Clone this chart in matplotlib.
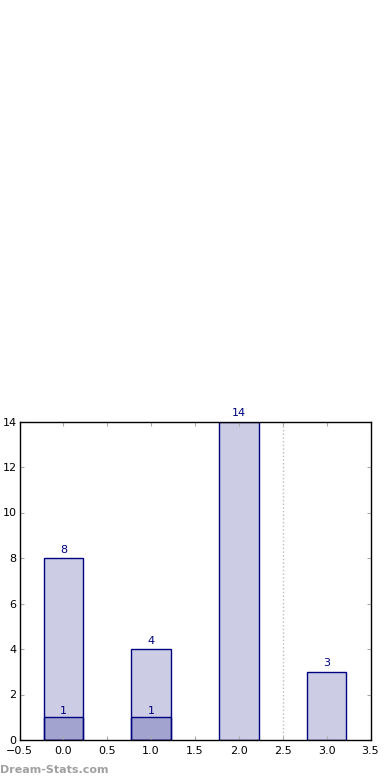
import matplotlib
matplotlib.use('Agg')
import matplotlib.pyplot as plt

# ---------------------------------------------------------------- DATA
positions = [0, 1, 2, 3]
totals = [8, 4, 14, 3]
sub_positions = [0, 1]
sub_values = [1, 1]
divider_x = 2.5
watermark = 'Dream-Stats.com'

# ---------------------------------------------------------------- PLOT
fig = plt.figure(figsize=(3.9, 7.8), dpi=100)
ax = fig.add_axes([19.5 / 390, 1 - 740 / 780, (370.5 - 19.5) / 390, (740 - 421.5) / 780])

bar_w = 0.45
ax.bar(positions, totals, width=bar_w, color='navy', alpha=0.2, edgecolor='none')
ax.bar(positions, totals, width=bar_w, fill=False, edgecolor='navy', linewidth=1)
ax.bar(sub_positions, sub_values, width=bar_w, color='navy', alpha=0.2, edgecolor='none')
ax.bar(sub_positions, sub_values, width=bar_w, fill=False, edgecolor='navy', linewidth=1)

for x, v in zip(positions, totals):
    ax.text(x, v + 0.15, str(v), ha='center', va='bottom', color='navy', fontsize=8)
for x, v in zip(sub_positions, sub_values):
    ax.text(x, v + 0.05, str(v), ha='center', va='bottom', color='navy', fontsize=8)

ax.axvline(divider_x, color='#bbbbbb', linestyle=':', linewidth=1)

ax.set_xlim(-0.5, 3.5)
ax.set_ylim(0, 14)
ax.set_xticks([-0.5, 0, 0.5, 1, 1.5, 2, 2.5, 3, 3.5])
ax.set_yticks(range(0, 15, 2))
ax.tick_params(direction='in', length=3, color='#aaaaaa', labelsize=8,
               top=True, right=True, pad=2)
ax.tick_params(axis='x', pad=4)
for s in ax.spines.values():
    s.set_linewidth(1)

fig.text(0.0, 1 - 770 / 780, watermark, color='#a0a0a0', fontsize=8,
         fontweight='bold', ha='left', va='center')

plt.savefig('out.png', dpi=100)
